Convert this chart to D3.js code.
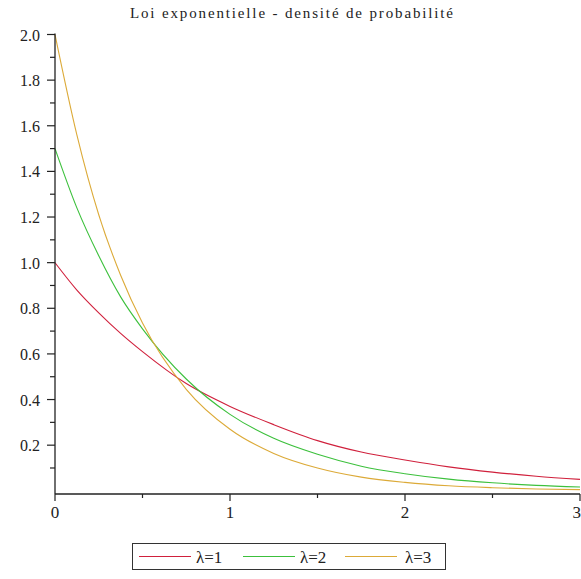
<!DOCTYPE html>
<html>
<head>
<meta charset="utf-8">
<script src="https://cdn.jsdelivr.net/npm/d3@7"></script>
<style>
  html, body { margin: 0; padding: 0; background: #fff; }
  svg { display: block; }
</style>
</head>
<body>
<svg id="chart" width="581" height="579"></svg>
<script>
// Sample points of each density curve
const xs = [0, 0.125, 0.25, 0.375, 0.5, 0.75, 1, 1.25, 1.5, 1.75, 2, 2.25, 2.5, 2.75, 3];
const densLambda1 = [1.00, 0.88, 0.78, 0.69, 0.61, 0.47, 0.37, 0.29, 0.22, 0.17, 0.135, 0.105, 0.082, 0.064, 0.05];
const densLambda2 = [1.50, 1.24, 1.03, 0.85, 0.71, 0.49, 0.335, 0.23, 0.16, 0.108, 0.075, 0.051, 0.035, 0.024, 0.017];
const densLambda3 = [2.00, 1.56, 1.21, 0.945, 0.735, 0.445, 0.27, 0.164, 0.10, 0.06, 0.037, 0.022, 0.0135, 0.008, 0.005];

const seriesNames = ["λ=1", "λ=2", "λ=3"];
const seriesColors = ["#d0203c", "#3cc03c", "#dcaa38"];
const title = "Loi exponentielle - densité de probabilité";

const xMajor = [0, 1, 2, 3];
const xMinor = [0.5, 1.5, 2.5];
const yMajor = [0.2, 0.4, 0.6, 0.8, 1.0, 1.2, 1.4, 1.6, 1.8, 2.0];
const yMinor = [0.1, 0.3, 0.5, 0.7, 0.9, 1.1, 1.3, 1.5, 1.7, 1.9];

const serif = "'Liberation Serif', 'Times New Roman', Times, 'DejaVu Serif', serif";

const svg = d3.select("#chart");

const x = d3.scaleLinear().domain([0, 3]).range([55, 580]);
const y = d3.scaleLinear().domain([-0.014, 2.0]).range([494, 34.5]);

// Title
svg.append("text")
  .attr("x", 130).attr("y", 18)
  .attr("textLength", 323).attr("lengthAdjust", "spacing")
  .attr("font-family", serif)
  .attr("font-size", 15)
  .attr("fill", "#222")
  .text(title);

// Curves
const series = [densLambda1, densLambda2, densLambda3];
const line = d3.line()
  .x(d => x(d[0]))
  .y(d => y(d[1]))
  .curve(d3.curveMonotoneX);

series.forEach((vals, i) => {
  svg.append("path")
    .datum(xs.map((v, j) => [v, vals[j]]))
    .attr("fill", "none")
    .attr("stroke", seriesColors[i])
    .attr("stroke-width", 1.1)
    .attr("d", line);
});

// Axes
const axisColor = "#222";
const y0 = y.range()[0];
svg.append("line")
  .attr("x1", x(0)).attr("x2", x(3))
  .attr("y1", y0).attr("y2", y0)
  .attr("stroke", axisColor).attr("stroke-width", 1.3);
svg.append("line")
  .attr("x1", x(0)).attr("x2", x(0))
  .attr("y1", y0).attr("y2", y(2.0) - 1)
  .attr("stroke", axisColor).attr("stroke-width", 1.3);

// Y ticks and labels
svg.selectAll(".ymaj").data(yMajor).enter().append("line")
  .attr("x1", x(0) - 8).attr("x2", x(0))
  .attr("y1", d => y(d)).attr("y2", d => y(d))
  .attr("stroke", axisColor).attr("stroke-width", 1.2);
svg.selectAll(".ymin").data(yMinor).enter().append("line")
  .attr("x1", x(0) - 5).attr("x2", x(0))
  .attr("y1", d => y(d)).attr("y2", d => y(d))
  .attr("stroke", axisColor).attr("stroke-width", 1.2);
svg.selectAll(".ylab").data(yMajor).enter().append("text")
  .attr("x", 40).attr("y", d => y(d) + 6)
  .attr("text-anchor", "end")
  .attr("font-family", serif)
  .attr("font-size", 16)
  .attr("fill", "#222")
  .text(d => d3.format(".1f")(d));

// X ticks and labels
svg.selectAll(".xmaj").data(xMajor).enter().append("line")
  .attr("x1", d => x(d)).attr("x2", d => x(d))
  .attr("y1", y0).attr("y2", y0 + 7)
  .attr("stroke", axisColor).attr("stroke-width", 1.2);
svg.selectAll(".xmin").data(xMinor).enter().append("line")
  .attr("x1", d => x(d)).attr("x2", d => x(d))
  .attr("y1", y0).attr("y2", y0 + 4)
  .attr("stroke", axisColor).attr("stroke-width", 1.2);
svg.selectAll(".xlab").data(xMajor).enter().append("text")
  .attr("x", d => d === 3 ? x(d) + 1 : x(d)).attr("y", 518)
  .attr("text-anchor", d => d === 3 ? "end" : "middle")
  .attr("font-family", serif)
  .attr("font-size", 17)
  .attr("fill", "#222")
  .text(d => d);

// Legend
const legend = svg.append("g");
legend.append("rect")
  .attr("x", 132.5).attr("y", 543.5).attr("width", 313).attr("height", 26)
  .attr("fill", "#fff").attr("stroke", "#333").attr("stroke-width", 1);
const legendX = [139, 243, 345];
seriesNames.forEach((name, i) => {
  legend.append("line")
    .attr("x1", legendX[i]).attr("x2", legendX[i] + 52)
    .attr("y1", 556.5).attr("y2", 556.5)
    .attr("stroke", seriesColors[i]).attr("stroke-width", 1.1);
  legend.append("text")
    .attr("x", legendX[i] + 57 + (i === 2 ? 3 : 0)).attr("y", 563)
    .attr("font-family", serif)
    .attr("font-size", 17)
    .attr("fill", "#222")
    .text(name);
});
</script>
</body>
</html>
